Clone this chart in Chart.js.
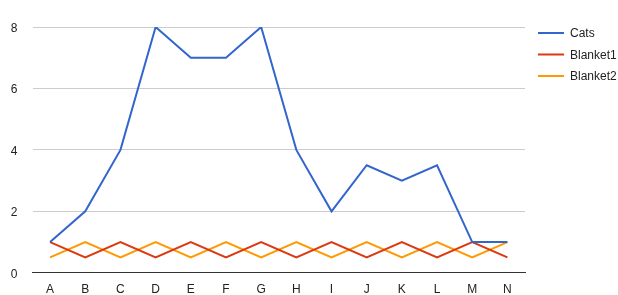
<!DOCTYPE html>
<html>
<head>
<meta charset="utf-8">
<script src="https://cdn.jsdelivr.net/npm/chart.js@4"></script>
<style>
  html, body { margin: 0; padding: 0; background: #fff; }
  #wrap { width: 618px; height: 295px; position: relative; }
</style>
</head>
<body>
<div id="wrap"><canvas id="catsChart"></canvas></div>
<script>
const categories = ['A', 'B', 'C', 'D', 'E', 'F', 'G', 'H', 'I', 'J', 'K', 'L', 'M', 'N'];
const cats = [1, 2, 4, 8, 7, 7, 8, 4, 2, 3.5, 3, 3.5, 1, 1];
const blanket1 = [1, 0.5, 1, 0.5, 1, 0.5, 1, 0.5, 1, 0.5, 1, 0.5, 1, 0.5];
const blanket2 = [0.5, 1, 0.5, 1, 0.5, 1, 0.5, 1, 0.5, 1, 0.5, 1, 0.5, 1];
const yTicks = [0, 2, 4, 6, 8];

const FONT = 'Arial, "Liberation Sans", sans-serif';

// legend drawn by hand, google style (line sample + label)
const sideLegend = {
    id: 'sideLegend',
    afterDraw(chart) {
        const c = chart.ctx;
        const x0 = chart.chartArea.right + 13;
        chart.data.datasets.forEach((ds, i) => {
            const y = 33 + i * 21.5;
            c.save();
            c.strokeStyle = ds.borderColor;
            c.lineWidth = 2;
            c.beginPath();
            c.moveTo(x0, y);
            c.lineTo(x0 + 26, y);
            c.stroke();
            c.fillStyle = '#222';
            c.font = '12px ' + FONT;
            c.textBaseline = 'middle';
            c.fillText(ds.label, x0 + 32, y + 1);
            c.restore();
        });
    }
};

const ctx = document.getElementById('catsChart').getContext('2d');

new Chart(ctx, {
    type: 'line',
    data: {
        labels: categories,
        datasets: [
            { label: 'Cats', data: cats, borderColor: '#3366cc' },
            { label: 'Blanket1', data: blanket1, borderColor: '#dc3912' },
            { label: 'Blanket2', data: blanket2, borderColor: '#ff9900' }
        ]
    },
    options: {
        responsive: true,
        maintainAspectRatio: false,
        animation: false,
        layout: { padding: { top: 27, right: 93, left: 0, bottom: 0 } },
        elements: {
            line: { borderWidth: 2, tension: 0 },
            point: { radius: 0, hoverRadius: 0 }
        },
        plugins: {
            legend: { display: false },
            tooltip: { enabled: false }
        },
        scales: {
            x: {
                offset: true,
                grid: { display: false, drawTicks: false },
                border: { display: true, color: '#333', width: 1 },
                ticks: { color: '#222', font: { family: FONT, size: 12 }, padding: 10, maxRotation: 0 },
                afterFit(axis) { axis.height = 22; }
            },
            y: {
                min: 0,
                max: 8,
                afterBuildTicks(axis) { axis.ticks = yTicks.map(v => ({ value: v })); },
                grid: {
                    drawTicks: false,
                    color: (g) => g.tick && g.tick.value === 0 ? '#333' : '#cccccc'
                },
                border: { display: false },
                ticks: { color: '#222', font: { family: FONT, size: 12 }, padding: 15, labelOffset: 1.5 },
                afterFit(axis) { axis.width = 32.5; }
            }
        }
    },
    plugins: [sideLegend]
});
</script>
</body>
</html>
